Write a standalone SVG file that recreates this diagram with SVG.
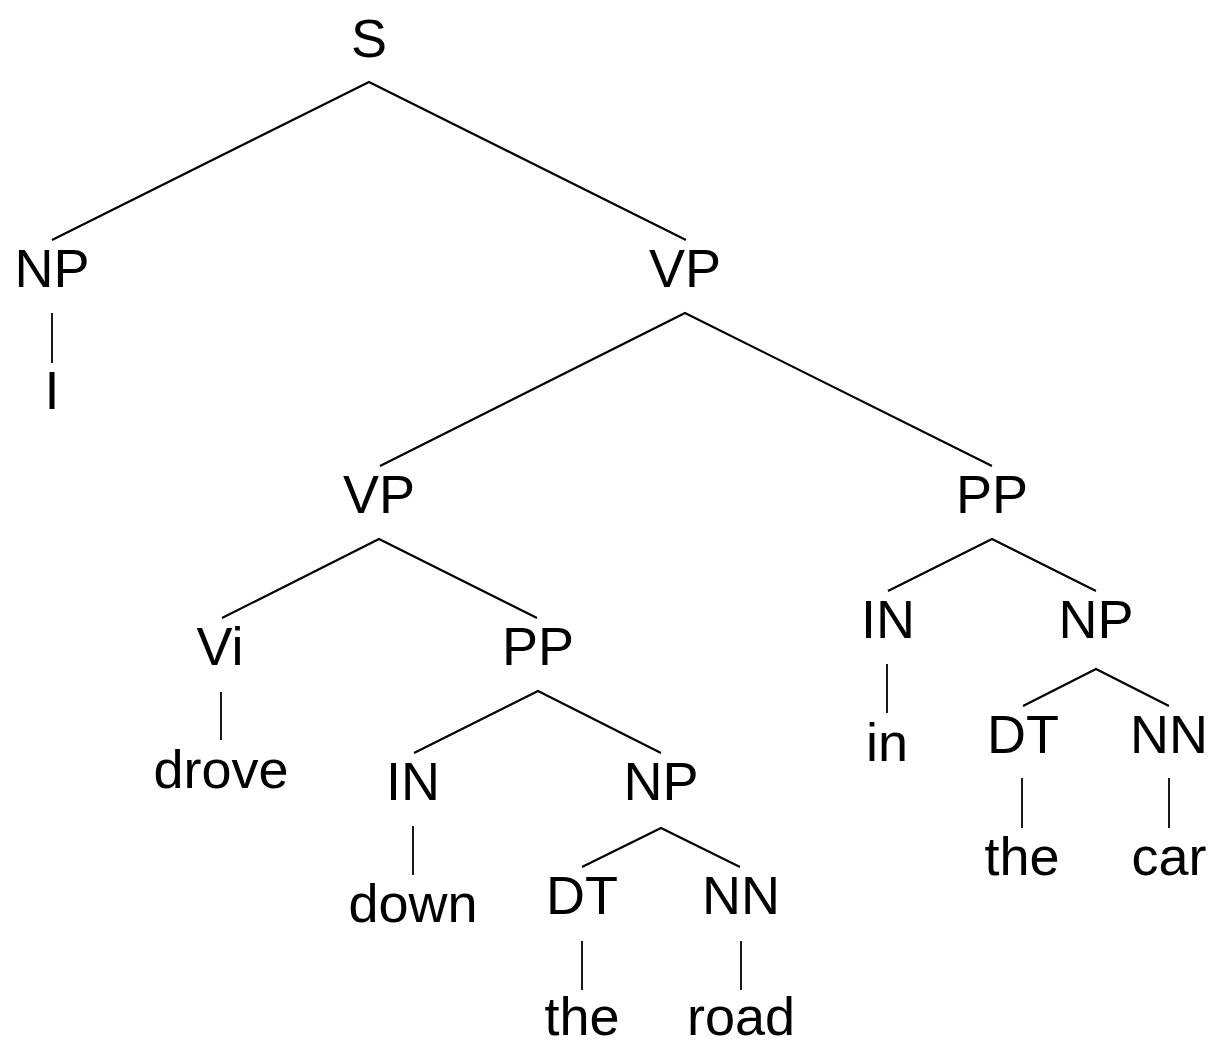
<svg xmlns="http://www.w3.org/2000/svg" width="1230" height="1052" viewBox="0 0 1230 1052">
<style>
text{font-family:"Liberation Sans",Arial,sans-serif;font-size:54px;fill:#000;text-anchor:middle}
.e{stroke:#000;stroke-width:2.2;fill:none;stroke-linecap:butt;stroke-linejoin:miter}
.v{stroke:#000;stroke-width:1.8;fill:none}
</style>
<rect width="1230" height="1052" fill="#fff"/>
<g id="connectors">
<polyline class="e" points="52,240 369,82 686,240"/>
<line class="v" x1="52" y1="313" x2="52" y2="363"/>
<polyline class="e" points="380,466 685,313 992,466"/>
<polyline class="e" points="222,618 379,539 537,618"/>
<line class="v" x1="221" y1="692" x2="221" y2="740"/>
<polyline class="e" points="414,753 538,691 661,753"/>
<line class="v" x1="413" y1="826" x2="413" y2="875"/>
<polyline class="e" points="582,867 661,828 740,867"/>
<line class="v" x1="582" y1="941" x2="582" y2="990"/>
<line class="v" x1="741" y1="941" x2="741" y2="990"/>
<polyline class="e" points="888,591 992,539 1096,591"/>
<line class="v" x1="887" y1="664" x2="887" y2="713"/>
<polyline class="e" points="1023,706 1096,669 1169,706"/>
<line class="v" x1="1022" y1="778" x2="1022" y2="828"/>
<line class="v" x1="1169" y1="778" x2="1169" y2="828"/>
</g>
<g id="n-S"><text x="369" y="57">S</text></g>
<g id="n-NP1"><text x="52" y="287">NP</text></g>
<g id="n-I"><text x="52" y="409">I</text></g>
<g id="n-VP1"><text x="685" y="287">VP</text></g>
<g id="n-VP2"><text x="379" y="513">VP</text></g>
<g id="n-PP1"><text x="992" y="513">PP</text></g>
<g id="n-Vi"><text x="220" y="665">Vi</text></g>
<g id="n-drove"><text x="221" y="788">drove</text></g>
<g id="n-PP2"><text x="538" y="665">PP</text></g>
<g id="n-IN2"><text x="413" y="800">IN</text></g>
<g id="n-down"><text x="413" y="922">down</text></g>
<g id="n-NP3"><text x="661" y="800">NP</text></g>
<g id="n-DT3"><text x="582" y="914">DT</text></g>
<g id="n-the3"><text x="582" y="1035">the</text></g>
<g id="n-NN3"><text x="741" y="914">NN</text></g>
<g id="n-road"><text x="741" y="1035">road</text></g>
<g id="n-IN4"><text x="888" y="638">IN</text></g>
<g id="n-in"><text x="887" y="761">in</text></g>
<g id="n-NP4"><text x="1096" y="638">NP</text></g>
<g id="n-DT4"><text x="1023" y="753">DT</text></g>
<g id="n-the4"><text x="1022" y="875">the</text></g>
<g id="n-NN4"><text x="1169" y="753">NN</text></g>
<g id="n-car"><text x="1169" y="875">car</text></g>
</svg>
